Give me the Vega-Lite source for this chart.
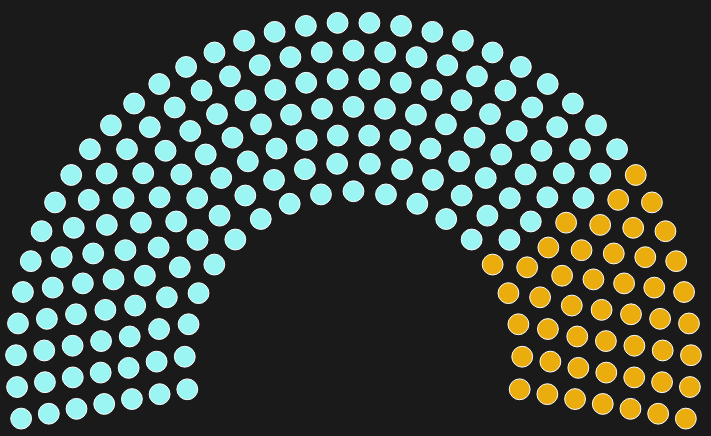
{
  "$schema": "https://vega.github.io/schema/vega-lite/v6.json",
  "width": 711,
  "height": 436,
  "autosize": "none",
  "padding": 0,
  "background": "#1a1a1a",
  "config": {"view": {"stroke": null}},
  "data": {"values": [
    {"party":"B","ring":1,"seat":0},{"party":"B","ring":1,"seat":1},{"party":"B","ring":1,"seat":2},{"party":"B","ring":1,"seat":3},{"party":"B","ring":1,"seat":4},
    {"party":"A","ring":1,"seat":5},{"party":"A","ring":1,"seat":6},{"party":"A","ring":1,"seat":7},{"party":"A","ring":1,"seat":8},{"party":"A","ring":1,"seat":9},
    {"party":"A","ring":1,"seat":10},{"party":"A","ring":1,"seat":11},{"party":"A","ring":1,"seat":12},{"party":"A","ring":1,"seat":13},{"party":"A","ring":1,"seat":14},
    {"party":"A","ring":1,"seat":15},{"party":"A","ring":1,"seat":16},{"party":"A","ring":1,"seat":17},{"party":"A","ring":1,"seat":18},

    {"party":"B","ring":2,"seat":0},{"party":"B","ring":2,"seat":1},{"party":"B","ring":2,"seat":2},{"party":"B","ring":2,"seat":3},{"party":"B","ring":2,"seat":4},
    {"party":"A","ring":2,"seat":5},{"party":"A","ring":2,"seat":6},{"party":"A","ring":2,"seat":7},{"party":"A","ring":2,"seat":8},{"party":"A","ring":2,"seat":9},
    {"party":"A","ring":2,"seat":10},{"party":"A","ring":2,"seat":11},{"party":"A","ring":2,"seat":12},{"party":"A","ring":2,"seat":13},{"party":"A","ring":2,"seat":14},
    {"party":"A","ring":2,"seat":15},{"party":"A","ring":2,"seat":16},{"party":"A","ring":2,"seat":17},{"party":"A","ring":2,"seat":18},{"party":"A","ring":2,"seat":19},
    {"party":"A","ring":2,"seat":20},{"party":"A","ring":2,"seat":21},

    {"party":"B","ring":3,"seat":0},{"party":"B","ring":3,"seat":1},{"party":"B","ring":3,"seat":2},{"party":"B","ring":3,"seat":3},{"party":"B","ring":3,"seat":4},
    {"party":"B","ring":3,"seat":5},{"party":"A","ring":3,"seat":6},{"party":"A","ring":3,"seat":7},{"party":"A","ring":3,"seat":8},{"party":"A","ring":3,"seat":9},
    {"party":"A","ring":3,"seat":10},{"party":"A","ring":3,"seat":11},{"party":"A","ring":3,"seat":12},{"party":"A","ring":3,"seat":13},{"party":"A","ring":3,"seat":14},
    {"party":"A","ring":3,"seat":15},{"party":"A","ring":3,"seat":16},{"party":"A","ring":3,"seat":17},{"party":"A","ring":3,"seat":18},{"party":"A","ring":3,"seat":19},
    {"party":"A","ring":3,"seat":20},{"party":"A","ring":3,"seat":21},{"party":"A","ring":3,"seat":22},{"party":"A","ring":3,"seat":23},{"party":"A","ring":3,"seat":24},
    {"party":"A","ring":3,"seat":25},

    {"party":"B","ring":4,"seat":0},{"party":"B","ring":4,"seat":1},{"party":"B","ring":4,"seat":2},{"party":"B","ring":4,"seat":3},{"party":"B","ring":4,"seat":4},
    {"party":"B","ring":4,"seat":5},{"party":"B","ring":4,"seat":6},{"party":"A","ring":4,"seat":7},{"party":"A","ring":4,"seat":8},{"party":"A","ring":4,"seat":9},
    {"party":"A","ring":4,"seat":10},{"party":"A","ring":4,"seat":11},{"party":"A","ring":4,"seat":12},{"party":"A","ring":4,"seat":13},{"party":"A","ring":4,"seat":14},
    {"party":"A","ring":4,"seat":15},{"party":"A","ring":4,"seat":16},{"party":"A","ring":4,"seat":17},{"party":"A","ring":4,"seat":18},{"party":"A","ring":4,"seat":19},
    {"party":"A","ring":4,"seat":20},{"party":"A","ring":4,"seat":21},{"party":"A","ring":4,"seat":22},{"party":"A","ring":4,"seat":23},{"party":"A","ring":4,"seat":24},
    {"party":"A","ring":4,"seat":25},{"party":"A","ring":4,"seat":26},{"party":"A","ring":4,"seat":27},{"party":"A","ring":4,"seat":28},

    {"party":"B","ring":5,"seat":0},{"party":"B","ring":5,"seat":1},{"party":"B","ring":5,"seat":2},{"party":"B","ring":5,"seat":3},{"party":"B","ring":5,"seat":4},
    {"party":"B","ring":5,"seat":5},{"party":"B","ring":5,"seat":6},{"party":"A","ring":5,"seat":7},{"party":"A","ring":5,"seat":8},{"party":"A","ring":5,"seat":9},
    {"party":"A","ring":5,"seat":10},{"party":"A","ring":5,"seat":11},{"party":"A","ring":5,"seat":12},{"party":"A","ring":5,"seat":13},{"party":"A","ring":5,"seat":14},
    {"party":"A","ring":5,"seat":15},{"party":"A","ring":5,"seat":16},{"party":"A","ring":5,"seat":17},{"party":"A","ring":5,"seat":18},{"party":"A","ring":5,"seat":19},
    {"party":"A","ring":5,"seat":20},{"party":"A","ring":5,"seat":21},{"party":"A","ring":5,"seat":22},{"party":"A","ring":5,"seat":23},{"party":"A","ring":5,"seat":24},
    {"party":"A","ring":5,"seat":25},{"party":"A","ring":5,"seat":26},{"party":"A","ring":5,"seat":27},{"party":"A","ring":5,"seat":28},{"party":"A","ring":5,"seat":29},
    {"party":"A","ring":5,"seat":30},{"party":"A","ring":5,"seat":31},

    {"party":"B","ring":6,"seat":0},{"party":"B","ring":6,"seat":1},{"party":"B","ring":6,"seat":2},{"party":"B","ring":6,"seat":3},{"party":"B","ring":6,"seat":4},
    {"party":"B","ring":6,"seat":5},{"party":"B","ring":6,"seat":6},{"party":"B","ring":6,"seat":7},{"party":"A","ring":6,"seat":8},{"party":"A","ring":6,"seat":9},
    {"party":"A","ring":6,"seat":10},{"party":"A","ring":6,"seat":11},{"party":"A","ring":6,"seat":12},{"party":"A","ring":6,"seat":13},{"party":"A","ring":6,"seat":14},
    {"party":"A","ring":6,"seat":15},{"party":"A","ring":6,"seat":16},{"party":"A","ring":6,"seat":17},{"party":"A","ring":6,"seat":18},{"party":"A","ring":6,"seat":19},
    {"party":"A","ring":6,"seat":20},{"party":"A","ring":6,"seat":21},{"party":"A","ring":6,"seat":22},{"party":"A","ring":6,"seat":23},{"party":"A","ring":6,"seat":24},
    {"party":"A","ring":6,"seat":25},{"party":"A","ring":6,"seat":26},{"party":"A","ring":6,"seat":27},{"party":"A","ring":6,"seat":28},{"party":"A","ring":6,"seat":29},
    {"party":"A","ring":6,"seat":30},{"party":"A","ring":6,"seat":31},{"party":"A","ring":6,"seat":32},{"party":"A","ring":6,"seat":33},{"party":"A","ring":6,"seat":34},

    {"party":"B","ring":7,"seat":0},{"party":"B","ring":7,"seat":1},{"party":"B","ring":7,"seat":2},{"party":"B","ring":7,"seat":3},{"party":"B","ring":7,"seat":4},
    {"party":"B","ring":7,"seat":5},{"party":"B","ring":7,"seat":6},{"party":"B","ring":7,"seat":7},{"party":"B","ring":7,"seat":8},{"party":"A","ring":7,"seat":9},
    {"party":"A","ring":7,"seat":10},{"party":"A","ring":7,"seat":11},{"party":"A","ring":7,"seat":12},{"party":"A","ring":7,"seat":13},{"party":"A","ring":7,"seat":14},
    {"party":"A","ring":7,"seat":15},{"party":"A","ring":7,"seat":16},{"party":"A","ring":7,"seat":17},{"party":"A","ring":7,"seat":18},{"party":"A","ring":7,"seat":19},
    {"party":"A","ring":7,"seat":20},{"party":"A","ring":7,"seat":21},{"party":"A","ring":7,"seat":22},{"party":"A","ring":7,"seat":23},{"party":"A","ring":7,"seat":24},
    {"party":"A","ring":7,"seat":25},{"party":"A","ring":7,"seat":26},{"party":"A","ring":7,"seat":27},{"party":"A","ring":7,"seat":28},{"party":"A","ring":7,"seat":29},
    {"party":"A","ring":7,"seat":30},{"party":"A","ring":7,"seat":31},{"party":"A","ring":7,"seat":32},{"party":"A","ring":7,"seat":33},{"party":"A","ring":7,"seat":34},
    {"party":"A","ring":7,"seat":35},{"party":"A","ring":7,"seat":36},{"party":"A","ring":7,"seat":37}
  ]},
  "transform": [
    {"joinaggregate": [{"op": "count", "as": "seatsInRing"}], "groupby": ["ring"]},
    {"calculate": "(-10 + datum.seat * 200 / (datum.seatsInRing - 1)) * PI / 180", "as": "angle"},
    {"calculate": "(datum.ring + 5) / 12", "as": "radius"},
    {"calculate": "datum.radius * cos(datum.angle)", "as": "px"},
    {"calculate": "datum.radius * sin(datum.angle)", "as": "py"}
  ],
  "mark": {"type": "point", "shape": "circle", "filled": true, "size": 434, "stroke": "#ffffff", "strokeWidth": 1, "opacity": 1},
  "encoding": {
    "x": {"field": "px", "type": "quantitative", "scale": {"domain": [-1.0474, 1.0593], "nice": false, "zero": false}, "axis": null},
    "y": {"field": "py", "type": "quantitative", "scale": {"domain": [-0.2252, 1.0667], "nice": false, "zero": false}, "axis": null},
    "color": {"field": "party", "type": "nominal", "scale": {"domain": ["A", "B"], "range": ["#9bf6f3", "#ebac0d"]}, "legend": null},
    "stroke": {"value": "#ffffff"}
  }
}
